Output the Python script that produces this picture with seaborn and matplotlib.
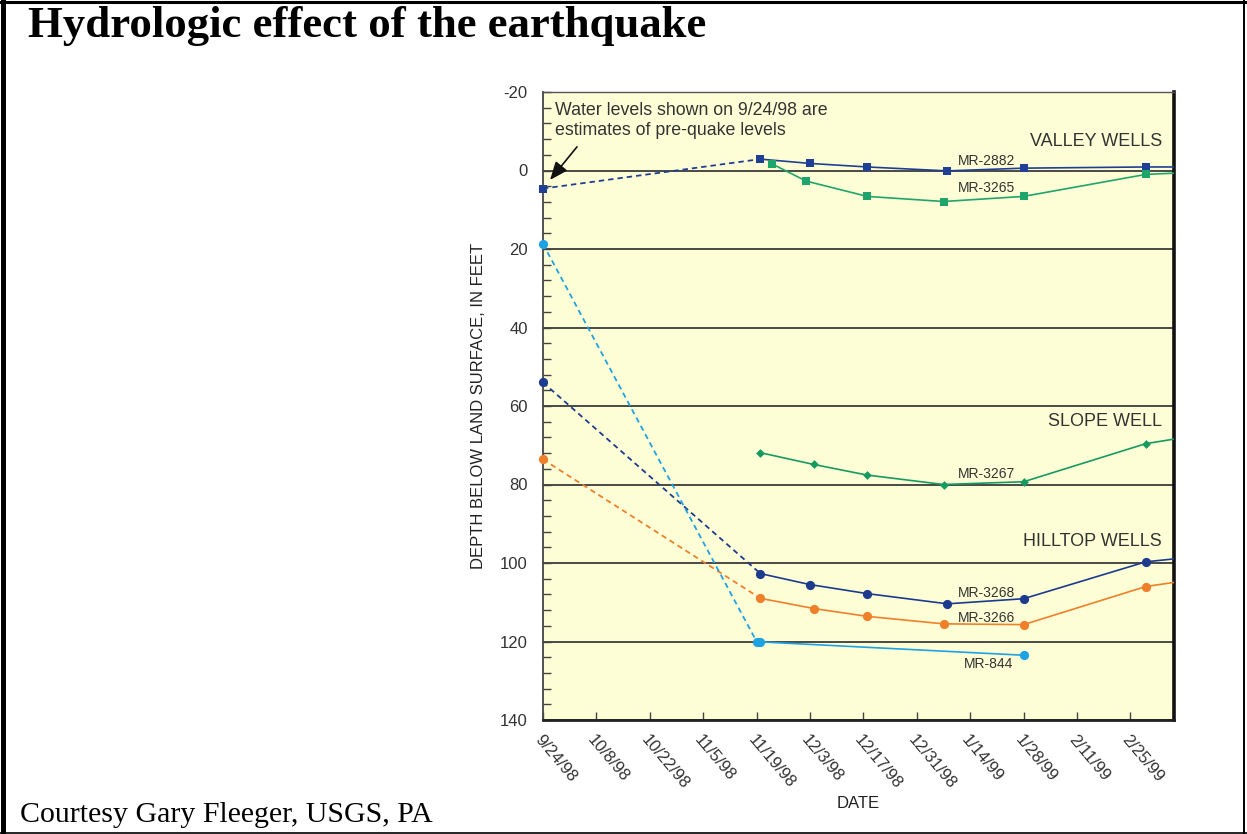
import matplotlib
matplotlib.use("Agg")
import matplotlib.pyplot as plt
import matplotlib.ticker as mticker
from matplotlib.lines import Line2D
import seaborn as sns
import pandas as pd

sns.set_style("ticks")
plt.rcParams['font.family'] = ['Liberation Sans', 'DejaVu Sans']
plt.rcParams['axes.unicode_minus'] = False

# ---------------- data ----------------
pre_quake_date = "1998-09-24"

mr2882_dates = ["1998-11-20", "1998-12-03", "1998-12-18", "1999-01-08", "1999-01-28", "1999-03-01", "1999-03-15"]
mr2882_depth = [-2.9, -1.8, -0.9, 0.1, -0.6, -0.9, -0.9]
mr2882_pre = 4.6

mr3265_dates = ["1998-11-23", "1998-12-02", "1998-12-18", "1999-01-07", "1999-01-28", "1999-03-01", "1999-03-15"]
mr3265_depth = [-1.7, 2.7, 6.6, 7.9, 6.6, 1.0, 0.4]

mr3267_dates = ["1998-11-20", "1998-12-04", "1998-12-18", "1999-01-07", "1999-01-28", "1999-03-01", "1999-03-15"]
mr3267_depth = [71.9, 74.9, 77.6, 80.0, 79.3, 69.6, 67.4]

mr3268_dates = ["1998-11-20", "1998-12-03", "1998-12-18", "1999-01-08", "1999-01-28", "1999-03-01", "1999-03-15"]
mr3268_depth = [102.7, 105.5, 107.8, 110.4, 109.1, 99.7, 98.3]
mr3268_pre = 54.0

mr3266_dates = ["1998-11-20", "1998-12-04", "1998-12-18", "1999-01-07", "1999-01-28", "1999-03-01", "1999-03-15"]
mr3266_depth = [109.0, 111.6, 113.6, 115.5, 115.7, 106.0, 104.0]
mr3266_pre = 73.6

mr844_dates = ["1998-11-19", "1998-11-20", "1999-01-28"]
mr844_depth = [120.0, 120.1, 123.5]
mr844_pre = 18.7

tick_labels = ["9/24/98", "10/8/98", "10/22/98", "11/5/98", "11/19/98", "12/3/98",
               "12/17/98", "12/31/98", "1/14/99", "1/28/99", "2/11/99", "2/25/99"]
y_ticks = [-20, 0, 20, 40, 60, 80, 100, 120, 140]

# ---------------- styles ----------------
styles = {
    "MR-2882": dict(color="#1f3f95", marker="s", s=40),
    "MR-3265": dict(color="#1fa56c", marker="s", s=40),
    "MR-3267": dict(color="#179a62", marker="D", s=20),
    "MR-3268": dict(color="#1c3b8e", marker="o", s=44),
    "MR-3266": dict(color="#f07f2a", marker="o", s=44),
    "MR-844": dict(color="#1ea2e2", marker="o", s=44),
}

series = {
    "MR-2882": (mr2882_dates, mr2882_depth, mr2882_pre),
    "MR-3265": (mr3265_dates, mr3265_depth, None),
    "MR-3267": (mr3267_dates, mr3267_depth, None),
    "MR-3268": (mr3268_dates, mr3268_depth, mr3268_pre),
    "MR-3266": (mr3266_dates, mr3266_depth, mr3266_pre),
    "MR-844": (mr844_dates, mr844_depth, mr844_pre),
}

x_start = pd.Timestamp("1998-09-24")
x_end = pd.Timestamp("1999-03-08 10:00")

fig = plt.figure(figsize=(12.47, 8.34), dpi=100)
ax = fig.add_axes([543 / 1247, 1 - 720 / 834, (1174 - 543) / 1247, (720 - 92) / 834])
ax.set_facecolor("#fefed6")

for name, (dts, vals, pre) in series.items():
    st = styles[name]
    df = pd.DataFrame({"date": pd.to_datetime(dts), "depth": vals})
    sns.lineplot(data=df, x="date", y="depth", color=st["color"], lw=1.2, ax=ax, zorder=3)
    vis = df[df["date"] <= x_end]
    if pre is not None:
        dash = pd.DataFrame({"date": pd.to_datetime([pre_quake_date, dts[0]]),
                             "depth": [pre, vals[0]]})
        sns.lineplot(data=dash, x="date", y="depth", color=st["color"], lw=1.3,
                     linestyle=(0, (3, 2.2)), ax=ax, zorder=3)
        vis = pd.concat([dash.iloc[:1], vis])
    sns.scatterplot(data=vis, x="date", y="depth", color=st["color"], marker=st["marker"],
                    s=st["s"], linewidth=0, ax=ax, zorder=4, clip_on=False)

ax.set_xlim(x_start, x_end)
ax.set_ylim(140, -20)

tick_dates = pd.to_datetime([pd.Timestamp("1998-09-24") + pd.Timedelta(days=14 * i) for i in range(len(tick_labels))])
ax.set_xticks(tick_dates)
ax.set_xticklabels(tick_labels, rotation=-50, ha="left", va="top", rotation_mode="anchor",
                   fontsize=12, color="#333333")
ax.set_yticks(y_ticks)
ax.set_yticklabels([str(v) for v in y_ticks], fontsize=12, color="#333333")
ax.yaxis.set_minor_locator(mticker.MultipleLocator(4))
ax.tick_params(axis="y", which="both", direction="in", length=6, width=1, color="#444444", pad=11)
ax.tick_params(axis="x", which="major", direction="in", length=6, width=1, color="#444444", pad=9)
ax.tick_params(top=False, right=False)

ax.grid(axis="y", which="major", color="#3a3a3a", lw=1.3)
ax.grid(axis="x", visible=False)
ax.set_axisbelow(True)

ax.spines["left"].set(color="#444444", lw=1.3)
ax.spines["top"].set(color="#555555", lw=1.0)
ax.spines["bottom"].set(color="#222222", lw=2.0)
ax.spines["right"].set(color="#111111", lw=2.6)

ax.set_xlabel("DATE", fontsize=12, color="#222222")
ax.xaxis.set_label_coords(0.5, -0.121)
ax.set_ylabel("DEPTH BELOW LAND SURFACE, IN FEET", fontsize=12, color="#222222")
ax.yaxis.set_label_coords(-0.090, 0.5)

# labels
lab_kw = dict(transform=ax.transAxes, fontsize=10, color="#333333", ha="center", va="center", zorder=5)
ax.text(0.7036, 0.890, "MR-2882", **lab_kw)
ax.text(0.7036, 0.8467, "MR-3265", **lab_kw)
ax.text(0.7036, 0.3917, "MR-3267", **lab_kw)
ax.text(0.7036, 0.2027, "MR-3268", **lab_kw)
ax.text(0.7036, 0.162, "MR-3266", **lab_kw)
ax.text(0.7068, 0.0887, "MR-844", **lab_kw)

grp_kw = dict(transform=ax.transAxes, fontsize=13, color="#333333", ha="right", va="center", zorder=5)
ax.text(0.981, 0.9209, "VALLEY WELLS", **grp_kw)
ax.text(0.981, 0.475, "SLOPE WELL", **grp_kw)
ax.text(0.981, 0.2839, "HILLTOP WELLS", **grp_kw)

ax.text(0.019, 0.984, "Water levels shown on 9/24/98 are\nestimates of pre-quake levels",
        transform=ax.transAxes, fontsize=12.8, color="#333333", ha="left", va="top", linespacing=1.2)
ax.annotate("", xy=(0.0111, 0.8599), xytext=(0.0539, 0.9127), xycoords="axes fraction",
            textcoords="axes fraction",
            arrowprops=dict(arrowstyle="-|>,head_length=1.1,head_width=0.45", color="#111111",
                            lw=1.2, shrinkA=0, shrinkB=0))

# figure texts
fig.text(28 / 1247, 1 - 37 / 834, "Hydrologic effect of the earthquake", fontsize=32.2,
         fontweight="bold", family=["Liberation Serif", "DejaVu Serif"], va="baseline", color="black")
fig.text(20 / 1247, 1 - 822 / 834, "Courtesy Gary Fleeger, USGS, PA", fontsize=21.5,
         family=["Liberation Serif", "DejaVu Serif"], va="baseline", color="black")

# border
fig.add_artist(Line2D([2.5 / 1247, 2.5 / 1247], [0, 1], transform=fig.transFigure, color="black", lw=3.6))
fig.add_artist(Line2D([0, 1], [1 - 1.5 / 834, 1 - 1.5 / 834], transform=fig.transFigure, color="black", lw=2.2))
fig.add_artist(Line2D([1244 / 1247, 1244 / 1247], [0, 1], transform=fig.transFigure, color="black", lw=1.4))
fig.add_artist(Line2D([0, 1], [1 - 833 / 834, 1 - 833 / 834], transform=fig.transFigure, color="black", lw=1.2))

fig.savefig("out.png", dpi=100)
